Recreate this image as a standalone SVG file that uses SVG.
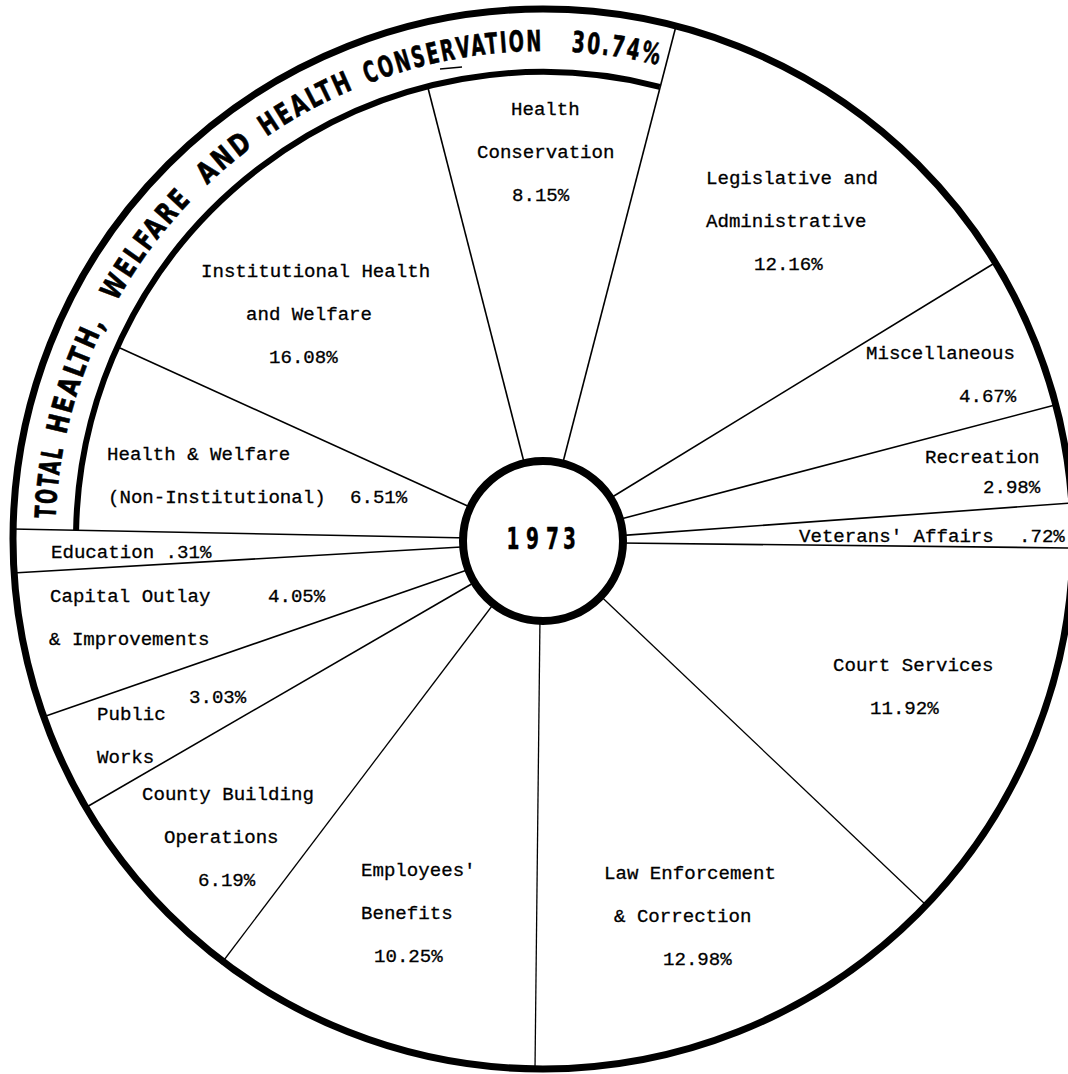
<svg xmlns="http://www.w3.org/2000/svg" xmlns:xlink="http://www.w3.org/1999/xlink" width="1068" height="1074" viewBox="0 0 1068 1074">
<style>
.t{font-family:"Liberation Mono","DejaVu Sans Mono",monospace;font-size:19.1px;fill:#000;stroke:#000;stroke-width:0.3}
.b{font-family:"DejaVu Sans Condensed","DejaVu Sans",sans-serif;font-stretch:condensed;font-weight:bold;font-size:29px;letter-spacing:3px;fill:#000;stroke:#000;stroke-width:0.6}
.yr{font-family:"DejaVu Sans","Liberation Sans",sans-serif;font-weight:bold;font-size:30px;fill:#000;stroke:#000;stroke-width:0.4}
.d{stroke:#000;stroke-width:1.6;fill:none}
.dt{stroke:#000;stroke-width:1.3;fill:none}
</style>
<defs>
<path id="bandArc" d="M 55 539 A 488 488 0 0 1 787 116.4"/>
</defs>
<rect width="1068" height="1074" fill="#fff"/>
<g id="outline">
<circle cx="543" cy="539" r="530" fill="none" stroke="#000" stroke-width="7"/>
<path d="M 76.1 530 A 467 467 0 0 1 659.7 86.8" fill="none" stroke="#000" stroke-width="6"/>
</g>
<g id="connectors">
<line class="d" x1="120" y1="348" x2="472" y2="508"/>
<line class="d" x1="428" y1="88" x2="525" y2="466"/>
<line class="d" x1="676" y1="26" x2="562" y2="466"/>
<line class="d" x1="993" y1="264" x2="609" y2="499"/>
<line class="d" x1="1055" y1="405" x2="617" y2="520"/>
<line class="d" x1="1072" y1="503" x2="620" y2="535.6"/>
<line class="d" x1="1072" y1="548" x2="620" y2="543"/>
<line class="dt" x1="926" y1="905" x2="599" y2="594.5"/>
<line class="dt" x1="535" y1="1069" x2="540" y2="617"/>
<line class="dt" x1="221" y1="964" x2="495" y2="602"/>
<line class="d" x1="85" y1="808" x2="475" y2="582"/>
<line class="d" x1="43" y1="717" x2="470" y2="569"/>
<line class="d" x1="13" y1="573" x2="470" y2="546.5"/>
<line class="d" x1="12" y1="529" x2="470" y2="538"/>
</g>
<g id="band-title">
<text class="b"><textPath xlink:href="#bandArc" startOffset="20.4" textLength="72" lengthAdjust="spacingAndGlyphs">TOTAL</textPath></text>
<text class="b"><textPath xlink:href="#bandArc" startOffset="104.8" textLength="121" lengthAdjust="spacingAndGlyphs">HEALTH,</textPath></text>
<text class="b"><textPath xlink:href="#bandArc" startOffset="247.8" textLength="128" lengthAdjust="spacingAndGlyphs">WELFARE</textPath></text>
<text class="b"><textPath xlink:href="#bandArc" startOffset="396" textLength="62.5" lengthAdjust="spacingAndGlyphs">AND</textPath></text>
<text class="b"><textPath xlink:href="#bandArc" startOffset="472.7" textLength="101" lengthAdjust="spacingAndGlyphs">HEALTH</textPath></text>
<text class="b"><textPath xlink:href="#bandArc" startOffset="586.8" textLength="180" lengthAdjust="spacingAndGlyphs">CONSERVATION</textPath></text>
<text class="b"><textPath xlink:href="#bandArc" startOffset="794.6" textLength="90" lengthAdjust="spacingAndGlyphs">30.74%</textPath></text>
<line x1="440" y1="69" x2="462" y2="67" stroke="#000" stroke-width="1.5"/>
</g>
<g id="center">
<circle cx="543" cy="541" r="80" fill="#fff" stroke="#000" stroke-width="8"/>
<text class="yr" transform="translate(543,549) scale(0.62,1)" text-anchor="middle"><tspan x="-48.4" y="0">1</tspan><tspan x="-16.9" y="0">9</tspan><tspan x="15.3" y="0">7</tspan><tspan x="42.7" y="0">3</tspan></text>
</g>
<g id="health-conservation">
<text class="t" x="511" y="115">Health</text>
<text class="t" x="477" y="158">Conservation</text>
<text class="t" x="512" y="201">8.15%</text>
</g>
<g id="legislative">
<text class="t" x="706" y="184">Legislative and</text>
<text class="t" x="706" y="227">Administrative</text>
<text class="t" x="754" y="270">12.16%</text>
</g>
<g id="miscellaneous">
<text class="t" x="866" y="359">Miscellaneous</text>
<text class="t" x="959" y="402">4.67%</text>
</g>
<g id="recreation">
<text class="t" x="925" y="463">Recreation</text>
<text class="t" x="983" y="493">2.98%</text>
</g>
<g id="veterans">
<text class="t" x="799" y="542">Veterans' Affairs</text>
<text class="t" x="1019" y="542">.72%</text>
</g>
<g id="court-services">
<text class="t" x="833" y="671">Court Services</text>
<text class="t" x="870" y="714">11.92%</text>
</g>
<g id="law-enforcement">
<text class="t" x="604" y="879">Law Enforcement</text>
<text class="t" x="614" y="922">&amp; Correction</text>
<text class="t" x="663" y="965">12.98%</text>
</g>
<g id="employees-benefits">
<text class="t" x="361" y="876">Employees'</text>
<text class="t" x="361" y="919">Benefits</text>
<text class="t" x="374" y="962">10.25%</text>
</g>
<g id="county-building">
<text class="t" x="142" y="800">County Building</text>
<text class="t" x="164" y="843">Operations</text>
<text class="t" x="198" y="886">6.19%</text>
</g>
<g id="public-works">
<text class="t" x="189" y="703">3.03%</text>
<text class="t" x="97" y="720">Public</text>
<text class="t" x="97" y="763">Works</text>
</g>
<g id="capital-outlay">
<text class="t" x="50" y="602">Capital Outlay</text>
<text class="t" x="268" y="602">4.05%</text>
<text class="t" x="49" y="645">&amp; Improvements</text>
</g>
<g id="education">
<text class="t" x="51" y="558">Education .31%</text>
</g>
<g id="health-welfare-non-inst">
<text class="t" x="107" y="460">Health &amp; Welfare</text>
<text class="t" x="108" y="503">(Non-Institutional)</text>
<text class="t" x="350" y="503">6.51%</text>
</g>
<g id="institutional">
<text class="t" x="201" y="277">Institutional Health</text>
<text class="t" x="246" y="320">and Welfare</text>
<text class="t" x="269" y="363">16.08%</text>
</g>
</svg>
